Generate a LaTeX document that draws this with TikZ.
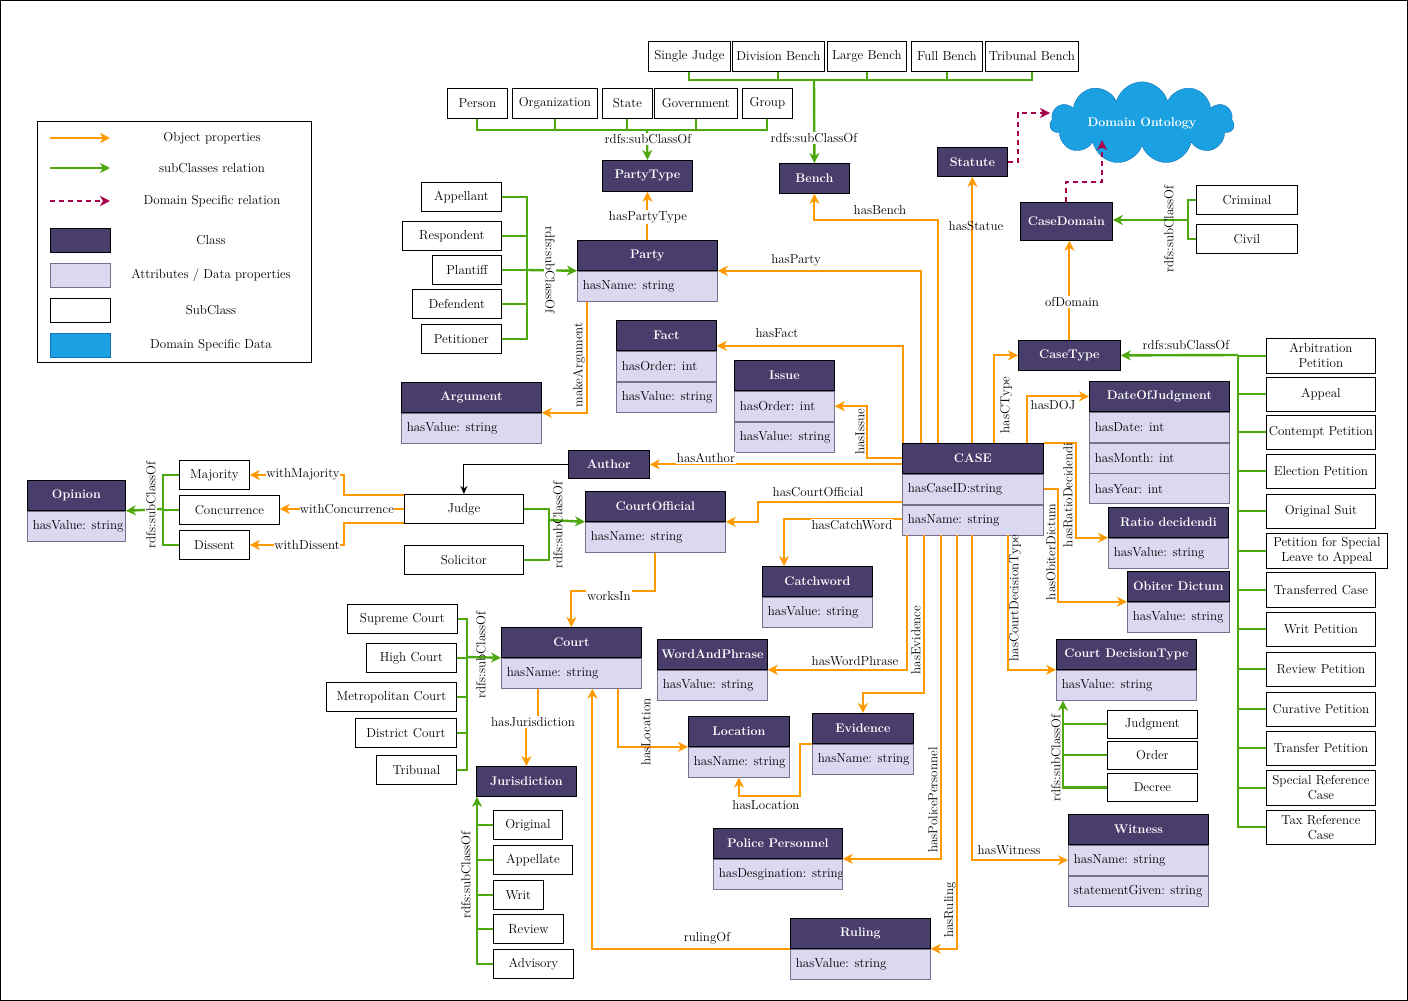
\documentclass[tikz,border=0pt]{standalone}
\usepackage{fontspec}
\usetikzlibrary{arrows.meta,shapes.symbols}
\definecolor{clsbg}{RGB}{72,61,107}
\definecolor{attbg}{RGB}{219,216,240}
\definecolor{attline}{RGB}{118,112,140}
\definecolor{objc}{RGB}{255,153,0}
\definecolor{subcol}{RGB}{77,168,15}
\definecolor{domc}{RGB}{166,0,77}
\definecolor{cloudbg}{RGB}{27,161,226}
\definecolor{cloudline}{RGB}{16,115,184}
% class header and attribute rows
\newcommand\klass[6][30]{\node[clshead, minimum width=#5pt, minimum height=#1pt] (#2) at (#3,#4) {#6};}
\newcommand\kattr[4]{\node[attrow, minimum width=#3pt, path picture={\node[anchor=west, inner sep=0pt, minimum width=0pt, minimum height=0pt, draw=none, fill=none, text=black] at ([xshift=5pt]path picture bounding box.west) {#4};}] (#1) at (#2.south west) {};}
\begin{document}
\begin{tikzpicture}[x=1pt, y=-1pt, font=\fontsize{13}{15}\selectfont,
  clshead/.style={draw=black, line width=0.8pt, fill=clsbg, text=white, font=\bfseries\fontsize{12.5}{15}\selectfont, inner sep=0pt, anchor=north west},
  attrow/.style={draw=attline, line width=0.8pt, fill=attbg, minimum height=30pt, inner sep=0pt, anchor=north west},
  subbox/.style={draw=black, line width=0.8pt, fill=white, inner sep=1pt, align=center, anchor=north west},
  objarr/.style={draw=objc, line width=2pt, -{Stealth[length=10pt, width=10pt, inset=3pt]}},
  subline/.style={draw=subcol, line width=2pt},
  subarr/.style={draw=subcol, line width=2.4pt, -{Stealth[length=10pt, width=10pt, inset=3pt]}},
  domarr/.style={draw=domc, line width=2pt, dash pattern=on 5pt off 4pt, -{Stealth[length=10pt, width=10pt, inset=3pt]}},
  authline/.style={draw=black, line width=0.9pt, -{Stealth[length=8pt, width=7pt]}},
  lbl/.style={fill=white, inner sep=1pt},
  vlbl/.style={inner sep=1pt, rotate=90}]
\useasboundingbox (0,0) rectangle (1408,1001);
\draw[line width=0.8pt] (0.5,0.5) rectangle (1407.5,1000.5);

% legend
\node[draw, line width=0.8pt, minimum width=274pt, minimum height=241pt, inner sep=0pt, anchor=north west] (legend) at (37,121) {};
\foreach \i/\y/\s/\t in {1/138/objarr/Object properties, 2/168/subarr/subClasses relation, 3/201/domarr/Domain Specific relation}
  {\coordinate (lg\i a) at (50,\y); \coordinate (lg\i b) at (110,\y);
   \draw[\s] (lg\i a) -- (lg\i b);
   \node (lgt\i) at (212,\y) {\t};}
\foreach \i/\y/\f/\d/\t in {4/240/clsbg/black/Class, 5/275/attbg/attline/{Attributes / Data properties}, 6/310/white/black/SubClass, 7/345/cloudbg/cloudline/Domain Specific Data}
  {\node[draw=\d, line width=0.8pt, fill=\f, minimum width=60pt, minimum height=24pt, inner sep=0pt] (sw\i) at (80,\y) {};
   \node (lgt\i) at (211,\y) {\t};}

% classes
\klass[31]{partytype}{602}{160}{90}{PartyType}
\klass{bench}{779}{163}{70}{Bench}
\klass[29]{statute}{937}{147}{70}{Statute}
\klass[38]{casedomain}{1020}{202}{92}{CaseDomain}
\klass{casetype}{1018}{340}{102}{CaseType}
\klass[28]{author}{568}{450}{81}{Author}
\klass{jurisdiction}{476}{766}{100}{Jurisdiction}
\klass{party}{577}{240}{140}{Party}
\kattr{partyA}{party}{140}{hasName: string}
\klass{argument}{401}{382}{140}{Argument}
\kattr{argumentA}{argument}{140}{hasValue: string}
\klass{fact}{616}{320}{100}{Fact}
\kattr{factA}{fact}{100}{hasOrder: int}
\kattr{factB}{factA}{100}{hasValue: string}
\klass{issue}{734}{360}{100}{Issue}
\kattr{issueA}{issue}{100}{hasOrder: int}
\kattr{issueB}{issueA}{100}{hasValue: string}
\klass{case}{902}{443}{141}{CASE}
\kattr{caseA}{case}{141}{hasCaseID:string}
\kattr{caseB}{caseA}{141}{hasName: string}
\klass{doj}{1089}{381}{140}{DateOfJudgment}
\kattr{dojA}{doj}{140}{hasDate: int}
\kattr{dojB}{dojA}{140}{hasMonth: int}
\kattr{dojC}{dojB}{140}{hasYear: int}
\klass{ratio}{1108}{507}{120}{Ratio decidendi}
\kattr{ratioA}{ratio}{120}{hasValue: string}
\klass{obiter}{1127}{571}{102}{Obiter Dictum}
\kattr{obiterA}{obiter}{102}{hasValue: string}
\klass{courtofficial}{585}{491}{140}{CourtOfficial}
\kattr{courtofficialA}{courtofficial}{140}{hasName: string}
\klass{catchword}{762}{566}{110}{Catchword}
\kattr{catchwordA}{catchword}{110}{hasValue: string}
\klass{opinion}{27}{480}{98}{Opinion}
\kattr{opinionA}{opinion}{98}{hasValue: string}
\klass{court}{501}{627}{140}{Court}
\kattr{courtA}{court}{140}{hasName: string}
\klass{wap}{657}{639}{110}{WordAndPhrase}
\kattr{wapA}{wap}{110}{hasValue: string}
\klass{cdt}{1056}{639}{140}{Court DecisionType}
\kattr{cdtA}{cdt}{140}{hasValue: string}
\klass{location}{688}{716}{101}{Location}
\kattr{locationA}{location}{101}{hasName: string}
\klass{evidence}{812}{713}{101}{Evidence}
\kattr{evidenceA}{evidence}{101}{hasName: string}
\klass{police}{713}{828}{129}{Police Personnel}
\kattr{policeA}{police}{129}{hasDesgination: string}
\klass{witness}{1068}{814}{140}{Witness}
\kattr{witnessA}{witness}{140}{hasName: string}
\kattr{witnessB}{witnessA}{140}{statementGiven: string}
\klass{ruling}{790}{918}{140}{Ruling}
\kattr{rulingA}{ruling}{140}{hasValue: string}
\node[cloud, cloud puffs=11, aspect=3, draw=cloudline, fill=cloudbg, text=white, font=\bfseries\fontsize{12.5}{15}\selectfont, minimum width=184pt, minimum height=62pt, inner sep=0pt] (domain) at (1142,123) {Domain Ontology};

% subclasses
\foreach \n/\x/\y/\w/\h/\t in {sj/648/41/82/30/Single Judge, db/732/41/92/30/Division Bench, lb/827/41/79/30/Large Bench, fb/911/41/71/30/Full Bench, tb/985/41/93/30/Tribunal Bench,
  person/447/88/60/30/Person, org/512/88/85/30/Organization, state/602/88/50/30/State, govt/654/88/83/30/Government, grp/742/88/50/30/Group,
  appellant/421/182/80/29/Appellant, respondent/402/221/99/29/Respondent, plantiff/432/255/69/29/Plantiff, defendent/412/289/89/29/Defendent, petitioner/421/324/80/29/Petitioner,
  criminal/1196/185/101/29/Criminal, civil/1196/224/101/29/Civil,
  arb/1266/338/109/35/{Arbitration\\Petition}, appeal/1266/377/109/34/Appeal, contempt/1266/415/109/34/Contempt Petition, election/1266/454/109/34/Election Petition,
  suit/1266/494/109/34/Original Suit, slp/1266/533/121/35/{Petition for Special\\Leave to Appeal}, trcase/1266/572/109/35/Transferred Case, writp/1266/612/109/34/Writ Petition,
  reviewp/1266/652/109/34/Review Petition, curative/1266/692/109/34/Curative Petition, transferp/1266/731/109/34/Transfer Petition,
  specref/1266/770/109/35/{Special Reference\\Case}, taxref/1266/810/109/34/{Tax Reference\\Case},
  majority/179/460/70/29/Majority, concurrence/179/495/100/29/Concurrence, dissent/179/530/70/29/Dissent,
  judge/404/494/119/29/Judge, solicitor/404/545/119/29/Solicitor,
  supreme/347/604/110/29/Supreme Court, high/366/643/90/29/High Court, metro/326/682/130/29/Metropolitan Court, district/355/718/101/29/District Court, tribunal/376/755/80/29/Tribunal,
  original/493/810/69/29/Original, appellate/493/845/79/29/Appellate, writ/493/880/50/29/Writ, reviewj/493/914/70/29/Review, advisory/493/949/80/29/Advisory,
  judgment/1107/710/90/28/Judgment, order/1107/741/90/28/Order, decree/1107/773/90/28/Decree}
  {\node[subbox, minimum width=\w pt, minimum height=\h pt] (\n) at (\x,\y) {\t};}

% subclass buses
\coordinate (benchbus) at (814,80);
\draw[subline] (sj.south) |- (benchbus) -| (tb.south);
\foreach \b in {db,lb,fb} \draw[subline] (\b.south) -- (\b.south |- benchbus);
\draw[subarr] (benchbus) -- (bench.north);
\coordinate (ptbus) at (647,130);
\draw[subline] (person.south) |- (ptbus) -| (grp.south);
\foreach \b in {org,state,govt} \draw[subline] (\b.south) -- (\b.south |- ptbus);
\draw[subarr] (ptbus) -- (partytype.north);
\coordinate (rolebus) at (527,270);
\draw[subline] (appellant.east) -| (rolebus) |- (petitioner.east);
\foreach \b in {respondent,plantiff,defendent} \draw[subline] (\b.east) -- (\b.east -| rolebus);
\draw[subarr] (rolebus) -- (party.south west);
\coordinate (dombus) at (1188,220);
\draw[subline] (criminal.west) -| (dombus) |- (civil.west);
\draw[subarr] (dombus) -- (casedomain.east |- dombus);
\coordinate (ctbus) at (1238,355);
\draw[subline] (arb.west) -| (ctbus) |- (taxref.west);
\foreach \b in {appeal,contempt,election,suit,slp,trcase,writp,reviewp,curative,transferp,specref} \draw[subline] (\b.west) -- (\b.west -| ctbus);
\draw[subarr] (ctbus) -- (casetype.east);
\coordinate (opbus) at (163,509);
\draw[subline] (majority.west) -| (opbus) |- (dissent.west);
\draw[subline] (concurrence.west) -- (concurrence.west -| opbus);
\draw[subarr] (opbus) -- (opinion.south east);
\coordinate (offbus) at (549,520);
\draw[subline] (judge.east) -| (offbus) |- (solicitor.east);
\draw[subarr] (offbus) -- (courtofficial.south west);
\coordinate (crtbus) at (467,657);
\draw[subline] (supreme.east) -| (crtbus) |- (tribunal.east);
\foreach \b in {high,metro,district} \draw[subline] (\b.east) -- (\b.east -| crtbus);
\draw[subarr] (crtbus) -- (court.south west);
\coordinate (jurbus) at ([xshift=1pt]jurisdiction.south west);
\draw[subarr] (advisory.west) -| (jurbus);
\foreach \b in {original,appellate,writ,reviewj} \draw[subline] (\b.west) -- (\b.west -| jurbus);
\coordinate (decbus) at ([xshift=7pt]cdtA.south west);
\draw[subarr] (decree.west) -| (decbus);
\foreach \b in {judgment,order} \draw[subline] (\b.west) -- (\b.west -| decbus);

% object properties
\draw[objarr] (party.north) -- (partytype.south);
\draw[objarr] ([xshift=10pt]partyA.south west) |- (argument.south east);
\draw[objarr] ([xshift=1pt]case.north west) |- ([yshift=5pt]fact.south east);
\draw[objarr] ([xshift=19pt]case.north west) |- (party.south east);
\draw[objarr] ([xshift=36pt]case.north west) -- ++(0,-223) -| (bench.south);
\draw[objarr] (case.north -| statute.south) -- (statute.south);
\draw[objarr] ([xshift=92pt]case.north west) |- (casetype.west);
\draw[objarr] ([xshift=125pt]case.north west) |- (doj.west);
\draw[objarr] (casetype.north) -- (casetype.north |- casedomain.south);
\draw[objarr] (case.north east) -- ++(32,0) |- (ratio.south west);
\draw[objarr] (caseA.east) -- ++(14,0) |- (obiter.south west);
\draw[objarr] (case.west) -- ++(-35,0) |- (issueA.east);
\draw[objarr] (author.east -| case.west) -- (author.east);
\draw[objarr] ([yshift=3pt]caseA.south west) -- ++(-144,0) |- (courtofficial.south east);
\draw[objarr] ([yshift=-14pt]caseA.south west) -| ([xshift=22pt]catchword.north west);
\draw[objarr] (courtofficialA.south) -- ++(0,38) -| (court.north);
\draw[objarr] ([xshift=37pt]courtA.south west) -- ++(0,35) -| (jurisdiction.north);
\draw[objarr] ([xshift=117pt]courtA.south west) |- (location.south west);
\draw[objarr] (evidence.south west) -- ++(-12,0) -- ++(0,52) -| (locationA.south);
\draw[objarr] ([xshift=5pt]caseB.south west) |- (wap.south east);
\draw[objarr] ([xshift=22pt]caseB.south west) -- ++(0,158) -| (evidence.north);
\draw[objarr] ([xshift=39pt]caseB.south west) |- (police.south east);
\draw[objarr] ([xshift=55pt]caseB.south west) |- (ruling.south east);
\draw[objarr] ([xshift=70pt]caseB.south west) |- (witnessA.west);
\draw[objarr] ([xshift=106pt]caseB.south west) |- (cdt.south west);
\draw[objarr] (ruling.south west) -| ([xshift=21pt]courtA.south);
\draw[objarr] ([yshift=-1pt]judge.north west) -- ++(-60,0) |- (majority.east);
\draw[objarr] (judge.west) -- (judge.west -| concurrence.east);
\draw[objarr] ([yshift=1pt]judge.south west) -- ++(-60,0) |- (dissent.east);
\draw[authline] (author.west) -| (judge.north);

% domain specific
\draw[domarr] (statute.east) -- ++(10,0) |- ([yshift=10pt]domain.west);
\draw[domarr] (casedomain.north) -- ++(0,-20) -| ([xshift=-40pt,yshift=6pt]domain.south);

% labels
\node[lbl] (tpt) at (648,217) {hasPartyType};
\node[vlbl] (targ) at (579,365) {makeArgument};
\node[lbl] (tfact) at (777,333) {hasFact};
\node[lbl] (tparty) at (796,260) {hasParty};
\node[lbl] (tbench) at (880,210) {hasBench};
\node[inner sep=1pt] (tstat) at (976,226) {hasStatue};
\node[vlbl] (tctype) at (1006,405) {hasCType};
\node[lbl] (tdoj) at (1053,405) {hasDOJ};
\node[lbl] (tdom) at (1072,302) {ofDomain};
\node[vlbl] (tratio) at (1068,495) {hasRatioDecidendi};
\node[vlbl] (tobit) at (1051,552) {hasObiterDictum};
\node[vlbl] (tissue) at (860,432) {hasIssue};
\node[lbl] (tauth) at (706,458) {hasAuthor};
\node[lbl] (tco) at (818,492) {hasCourtOfficial};
\node[lbl] (tcw) at (852,525) {hasCatchWord};
\node[lbl] (twork) at (609,596) {worksIn};
\node[lbl] (tjur) at (533,722) {hasJurisdiction};
\node[vlbl] (tloc1) at (646,732) {hasLocation};
\node[lbl] (tloc2) at (766,805) {hasLocation};
\node[lbl] (twp) at (855,661) {hasWordPhrase};
\node[vlbl] (tevid) at (916,640) {hasEvidence};
\node[vlbl] (tpol) at (933,800) {hasPolicePersonnel};
\node[vlbl] (trul) at (950,910) {hasRuling};
\node[lbl] (twit) at (1009,850) {hasWitness};
\node[vlbl] (tcdt) at (1015,598) {hasCourtDecisionType};
\node[lbl] (trof) at (707,938) {rulingOf};
\node[lbl, inner sep=0pt] (tmaj) at (303,474) {withMajority};
\node[lbl, inner sep=0pt] (tcon) at (347,509) {withConcurrence};
\node[lbl, inner sep=0pt] (tdis) at (307,545) {withDissent};
\node[lbl] (ts1) at (648,139) {rdfs:subClassOf};
\node[lbl] (ts2) at (814,138) {rdfs:subClassOf};
\node[lbl, rotate=-90] (ts3) at (550,270) {rdfs:subClassOf};
\node[lbl, rotate=90] (ts4) at (151,505) {rdfs:subClassOf};
\node[vlbl] (ts5) at (558,525) {rdfs:subClassOf};
\node[vlbl] (ts6) at (481,655) {rdfs:subClassOf};
\node[vlbl] (ts7) at (466,875) {rdfs:subClassOf};
\node[vlbl] (ts8) at (1056,758) {rdfs:subClassOf};
\node[vlbl] (ts9) at (1169,229) {rdfs:subClassOf};
\node[lbl] (ts10) at (1186,345) {rdfs:subClassOf};
\end{tikzpicture}
\end{document}
